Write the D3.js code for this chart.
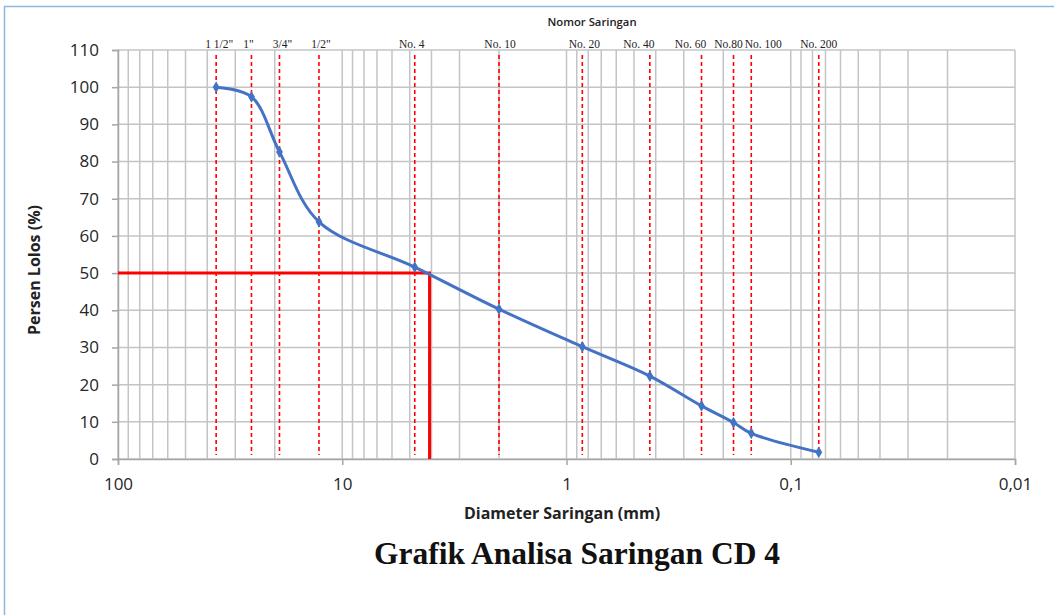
<!DOCTYPE html>
<html><head><meta charset="utf-8">
<script src="https://cdn.jsdelivr.net/npm/d3@7"></script>
<style>
html,body{margin:0;padding:0;background:#fff;}
svg{display:block;}
</style></head>
<body><svg id="chart" width="1054" height="615"></svg>
<script>
// ---- data ----
const sieveNames = ["1 1/2\"", "1\"", "3/4\"", "1/2\"", "No. 4", "No. 10", "No. 20", "No. 40", "No. 60", "No.80", "No. 100", "No. 200"];
const sieveSizes = [36.5, 25.4, 19.05, 12.7, 4.75, 2.0, 0.85, 0.425, 0.25, 0.18, 0.15, 0.075];
const percentPassing = [100.0, 97.4, 82.6, 63.8, 51.6, 40.3, 30.2, 22.3, 14.3, 9.8, 6.9, 1.8];
const yTicks = [0, 10, 20, 30, 40, 50, 60, 70, 80, 90, 100, 110];
const xTicks = [100, 10, 1, 0.1, 0.01];
const xTickLabels = ["100", "10", "1", "0,1", "0,01"];
const d50Value = 50;
const d50Size = 4.08;

// label nudges (style only, pixels)
const labelNudge = [3, -3, 3, 2, -3, 1, 2, -11, -11, -5, 12, 0];

// ---- layout ----
const svg = d3.select("#chart");
const x = d3.scaleLog().domain([100, 0.01]).range([118, 1015]);
const y = d3.scaleLinear().domain([0, 110]).range([459, 50]);
const gridColor = "#c4c4c4";

// outer frame
svg.append("rect").attr("x", 4.5).attr("y", 6.5).attr("width", 1200).attr("height", 800)
  .attr("fill", "none").attr("stroke", "#8fb6e0").attr("stroke-width", 1.5);

// minor/major vertical grid
const vLines = [];
for (let e = -2; e < 2; e++) {
  for (let m = 1; m < 10; m++) vLines.push(m * Math.pow(10, e));
}
vLines.push(100);
svg.append("g").selectAll("line").data(vLines).join("line")
  .attr("x1", d => x(d)).attr("x2", d => x(d))
  .attr("y1", y(110)).attr("y2", y(0))
  .attr("stroke", gridColor).attr("stroke-width", 1.5);

// horizontal grid
svg.append("g").selectAll("line").data(yTicks).join("line")
  .attr("x1", x(100)).attr("x2", x(0.01))
  .attr("y1", d => y(d)).attr("y2", d => y(d))
  .attr("stroke", gridColor).attr("stroke-width", 1.5);

// axes
const yAxis = svg.append("g").attr("transform", `translate(${x(100)},0)`)
  .call(d3.axisLeft(y).tickValues(yTicks).tickSize(6).tickPadding(13).tickFormat(d3.format("d")));
const xAxis = svg.append("g").attr("transform", `translate(0,${y(0)})`)
  .call(d3.axisBottom(x).tickValues(xTicks).tickSize(6).tickPadding(13)
    .tickFormat((d, i) => xTickLabels[i]));
[yAxis, xAxis].forEach(g => {
  g.select(".domain").attr("stroke", "#a6a6a6").attr("stroke-width", 1.5);
  g.selectAll(".tick line").attr("stroke", "#a6a6a6").attr("stroke-width", 1.5);
  g.selectAll("text").attr("fill", "#262626")
    .style("font-family", "'Open Sans', 'Noto Sans', sans-serif").style("font-size", "17px");
});

// red dashed sieve lines
svg.append("g").selectAll("line").data(sieveSizes).join("line")
  .attr("x1", d => x(d)).attr("x2", d => x(d))
  .attr("y1", y(110) + 5).attr("y2", y(0) - 4)
  .attr("stroke", "#ff0000").attr("stroke-width", 1.6).attr("stroke-dasharray", "4,3");

// sieve labels
svg.append("g").selectAll("text").data(sieveNames).join("text")
  .attr("x", (d, i) => x(sieveSizes[i]) + labelNudge[i]).attr("y", 48)
  .attr("text-anchor", "middle")
  .style("font-family", "'Liberation Serif', 'Times New Roman', serif").style("font-size", "11.5px")
  .attr("fill", "#222").text(d => d);

// D50 red line
const d50Path = [[100, d50Value], [d50Size, d50Value], [d50Size, 0]];
svg.append("path").datum(d50Path)
  .attr("d", d3.line().x(d => x(d[0])).y(d => y(d[1])))
  .attr("fill", "none").attr("stroke", "#ff0000").attr("stroke-width", 3);

// gradation curve
const pts = sieveSizes.map((s, i) => [s, percentPassing[i]]);
svg.append("path").datum(pts)
  .attr("d", d3.line().x(d => x(d[0])).y(d => y(d[1])).curve(d3.curveCatmullRom.alpha(0.5)))
  .attr("fill", "none").attr("stroke", "#4472c4").attr("stroke-width", 3);
svg.append("g").selectAll("path").data(pts).join("path")
  .attr("transform", d => `translate(${x(d[0])},${y(d[1])})`)
  .attr("d", d3.symbol().type(d3.symbolDiamond).size(40))
  .attr("fill", "#4472c4");

// titles
svg.append("text").attr("x", 592).attr("y", 26).attr("text-anchor", "middle")
  .style("font-family", "'Open Sans', sans-serif").style("font-size", "11.3px").style("font-weight", "600")
  .attr("fill", "#222").text("Nomor Saringan");
svg.append("text").attr("x", 562).attr("y", 519).attr("text-anchor", "middle")
  .style("font-family", "'Open Sans', sans-serif").style("font-size", "16px").style("font-weight", "700")
  .attr("fill", "#222").text("Diameter Saringan (mm)");
svg.append("text").attr("transform", "translate(40,270) rotate(-90)").attr("text-anchor", "middle")
  .style("font-family", "'Open Sans', sans-serif").style("font-size", "16px").style("font-weight", "700")
  .attr("fill", "#222").text("Persen Lolos (%)");
svg.append("text").attr("x", 577).attr("y", 564).attr("text-anchor", "middle")
  .style("font-family", "'Liberation Serif', 'Times New Roman', serif").style("font-size", "31.5px").style("font-weight", "700")
  .attr("fill", "#111").text("Grafik Analisa Saringan CD 4");
</script></body></html>
